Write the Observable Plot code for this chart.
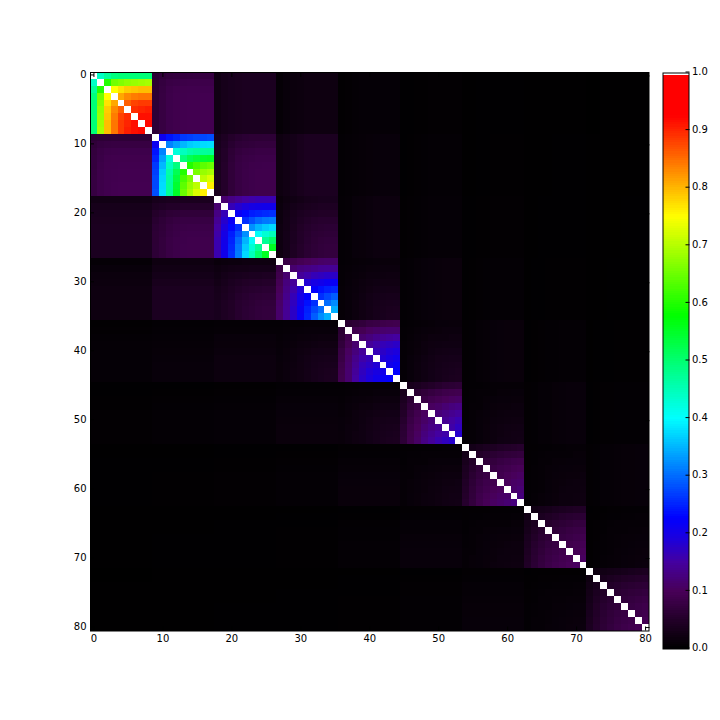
<!DOCTYPE html>
<html><head><meta charset="utf-8">
<script src="https://cdn.jsdelivr.net/npm/d3@7"></script>
<script src="https://cdn.jsdelivr.net/npm/@observablehq/plot@0.6"></script>
<style>html,body{margin:0;background:#fff}#c{position:relative;width:720px;height:720px}#c svg{position:absolute;top:0}</style>
</head><body><div id="c"></div>
<script>
// values in thousandths; the matrix is symmetric, built of 9 x 9 blocks
const diag0=[[440,470,490,495,495,495,495,495],[600,655,665,675,680,685,690],[750,770,785,790,795,795],[810,830,840,845,845],[860,880,885,885],[895,900,905],[915,915],[920]];
const diag1=[[210,240,250,265,270,275,275,280],[315,335,352,366,372,376,378],[425,445,460,468,470,472],[490,520,535,545,550],[600,625,640,650],[660,680,690],[705,725],[760]];
const diag2=[[115,130,140,150,155,160,160,160],[165,180,190,198,202,205,205],[215,232,245,250,255,258],[258,280,298,308,312],[325,350,365,375],[405,430,448],[475,505],[555]];
const diag3=[[80,88,95,100,105,110,112,112],[115,125,130,135,140,142,142],[145,155,165,170,175,175],[185,198,205,212,215],[225,238,248,252],[258,275,290],[300,322],[345]];
const diag4=[[60,65,70,78,80,85,88,90],[90,95,105,110,113,115,115],[115,125,135,140,145,150],[145,155,165,170,175],[165,175,185,190],[185,195,205],[205,215],[225]];
const diag5=[[35,40,45,50,55,60,62,65],[60,68,75,80,85,88,90],[80,90,95,100,105,108],[105,110,118,125,130],[122,130,138,145],[140,150,160],[155,170],[180]];
const diag6=[[30,35,40,43,47,50,52,55],[50,55,60,65,68,70,72],[68,72,78,82,86,88],[80,86,90,95,98],[90,97,102,106],[102,108,112],[112,118],[125]];
const diag7=[[25,30,33,37,40,43,45,47],[40,45,50,55,58,60,62],[55,60,65,68,72,74],[68,73,77,80,83],[78,82,86,90],[88,92,95],[96,100],[105]];
const diag8=[[20,25,28,30,33,36,38,40],[35,40,44,48,50,52,54],[50,54,58,60,63,65],[60,65,68,70,73],[70,74,77,80],[78,82,85],[85,90],[95]];
const diagBlocks=[diag0,diag1,diag2,diag3,diag4,diag5,diag6,diag7,diag8];

const next0=[[62,68,72,74,74,75,76,76,76],[64,74,80,82,84,85,85,85,85],[65,76,84,88,89,90,90,90,90],[66,77,85,89,90,91,91,92,92],[66,77,86,89,91,92,92,93,93],[66,77,86,89,91,92,92,93,93],[66,77,86,89,91,92,92,93,93],[66,77,86,89,91,92,92,93,93],[66,77,86,89,91,92,92,93,93]];
const next1=[[34,42,52,58,62,64,64,65,65],[36,46,58,66,68,70,72,72,72],[38,50,64,72,76,78,80,80,80],[38,50,66,76,80,82,84,84,84],[38,52,68,78,82,85,86,87,87],[38,52,68,78,83,86,88,88,88],[38,52,68,78,83,86,88,88,88],[38,52,68,78,83,86,88,88,88],[38,52,68,78,83,86,88,88,88]];
const next2=[[14,20,24,28,32,34,36,36,36],[16,24,30,34,38,40,42,42,42],[18,26,34,40,44,46,48,48,48],[18,28,36,44,50,54,56,56,56],[20,28,38,48,54,58,60,62,62],[20,30,40,50,56,62,64,66,66],[20,30,40,50,58,64,68,70,70],[20,30,42,52,60,66,70,72,72],[20,30,42,52,60,66,70,72,72]];
const next3=[[6,8,9,10,11,12,13,13,13],[7,9,11,12,14,15,16,16,16],[8,10,12,14,17,18,19,20,20],[8,11,14,17,20,22,23,23,23],[9,12,15,19,23,26,27,28,28],[9,12,16,21,26,30,31,32,32],[9,12,17,23,27,31,34,35,36],[9,12,17,23,28,32,35,38,39],[9,12,17,23,28,33,36,39,40]];
const next4=[[5,6,8,9,10,12,12,13,13],[6,8,10,12,13,14,16,16,16],[6,9,12,14,17,18,18,20,20],[8,10,13,17,20,21,22,22,22],[8,10,14,18,22,25,26,27,27],[8,12,16,21,25,29,30,31,31],[8,12,17,22,26,30,32,34,35],[8,12,17,22,27,31,34,36,38],[8,12,17,22,27,31,35,38,39]];
const next5=[[4,5,5,6,7,7,8,8,8],[4,6,7,7,8,10,10,11,11],[5,6,7,10,11,12,12,13,13],[5,7,8,11,13,14,14,16,16],[5,7,10,12,14,16,17,18,18],[5,7,11,13,16,18,19,20,20],[6,7,11,14,17,20,22,23,24],[6,8,11,14,18,20,23,25,25],[6,8,11,14,18,22,24,25,26]];
const next6=[[4,4,5,5,6,6,7,7,7],[4,5,6,7,7,8,8,10,10],[4,5,7,8,10,10,11,11,11],[4,6,7,10,11,12,12,13,13],[5,6,8,10,12,13,14,14,16],[5,6,8,11,13,14,16,17,17],[5,6,8,11,13,16,17,18,19],[5,7,10,12,14,17,18,19,20],[5,7,10,12,14,17,18,19,20]];
const next7=[[2,3,3,4,4,5,5,5,5],[3,3,4,5,5,6,6,7,7],[3,4,5,6,7,7,8,8,8],[3,4,5,7,8,8,9,9,10],[3,4,6,7,9,10,10,11,11],[3,5,6,8,9,10,11,12,12],[3,5,6,8,10,11,12,13,14],[3,5,7,9,10,12,13,14,15],[3,5,7,9,10,12,13,15,16]];
const nextBlocks=[next0,next1,next2,next3,next4,next5,next6,next7];

// farther block pairs: one row of nine values per pair, from block a to blocks a+2, a+3, ...
const far0=[[25,33,36,38,40,40,40,40,40],[8,12,16,18,20,20,20,20,20],[3,4,6,7,8,8,8,8,8],[2,2,3,3,4,4,4,4,4],[1,1,2,2,2,2,2,2,2],[1,1,1,1,1,1,1,1,1],[0,0,1,1,1,1,1,1,1]];
const far1=[[20,25,30,35,40,40,40,40,40],[5,6,8,9,10,11,12,12,12],[2,3,4,5,6,6,6,6,6],[1,1,2,2,3,3,3,3,3],[1,1,1,1,2,2,2,2,2],[1,1,1,1,1,1,1,1,1]];
const far2=[[6,8,12,13,15,17,17,18,18],[3,4,5,6,7,8,8,8,8],[2,2,3,3,4,4,4,4,4],[1,1,2,2,2,2,2,2,2],[1,1,1,1,1,2,2,2,2]];
const far3=[[5,6,9,11,12,13,14,14,14],[2,3,4,5,6,6,6,6,6],[1,2,2,3,3,3,3,3,3],[1,1,1,2,2,2,2,2,2]];
const far4=[[4,5,7,9,11,12,13,13,13],[2,3,4,5,5,6,6,6,6],[1,2,2,2,3,3,3,3,3]];
const far5=[[4,5,7,8,10,11,12,12,12],[2,3,4,4,5,5,5,5,5]];
const far6=[[4,5,7,8,9,10,10,11,11]];
const farBlocks=[far0,far1,far2,far3,far4,far5,far6];

const axisTicks=[0,10,20,30,40,50,60,70,80];
const barTicks=[0,0.1,0.2,0.3,0.4,0.5,0.6,0.7,0.8,0.9,1];
const colorStops=[0,0.05,0.1,0.15,0.19,0.227,0.4,0.578,0.75,0.925,0.996,0.9961,1];
const colorRange=["#000000","#220028","#480058","#4400a0","#1c00dc","#0000ff","#00ffff","#00ff00","#ffff00","#ff0000","#ff0000","#ffffff","#ffffff"];

function value(i,j){
  if(i===j) return 1;
  if(i>j) [i,j]=[j,i];
  const a=Math.floor(i/9),b=Math.floor(j/9),r=i%9,c=j%9;
  if(a===b) return diagBlocks[a][r][c-r-1]/1000;
  if(b===a+1) return nextBlocks[a][r][c]/1000;
  return farBlocks[a][b-a-2][c]/1000;
}
const idx=d3.range(81);
const cells=idx.flatMap(i=>idx.map(j=>({i,j,v:value(i,j)})));
const color={type:"linear",domain:colorStops,range:colorRange,interpolate:"rgb",clamp:true};
const font={fontFamily:"'DejaVu Sans',sans-serif",fontSize:"10px",background:"transparent",color:"#000"};

const main=Plot.plot({
  width:720,height:720,style:font,
  marginLeft:90,marginRight:71.5,marginTop:72,marginBottom:89.5,
  x:{type:"band",domain:idx,padding:0,round:false,label:null},
  y:{type:"band",domain:idx,padding:0,round:false,label:null},
  color,
  marks:[
    Plot.cell(cells,{x:"j",y:"i",fill:"v",shapeRendering:"crispEdges"}),
    Plot.frame({stroke:"#000"}),
    Plot.axisX({anchor:"bottom",ticks:axisTicks,tickSize:-4,tickPadding:8,label:null,stroke:"#000"}),
    Plot.axisX({anchor:"top",ticks:axisTicks,tickSize:-4,text:null,label:null,stroke:"#000"}),
    Plot.axisY({anchor:"left",ticks:axisTicks,tickSize:-4,tickPadding:8,dy:-1,label:null,stroke:"#000"}),
    Plot.axisY({anchor:"right",ticks:axisTicks,tickSize:-4,text:null,label:null,stroke:"#000"})
  ]
});
const levels=d3.range(256);
const bar=Plot.plot({
  width:720,height:720,style:font,
  marginLeft:662.5,marginRight:31.5,marginTop:72.5,marginBottom:71.5,
  x:{domain:[0,1],axis:null},
  y:{domain:[0,1],label:null},
  color,
  marks:[
    Plot.rect(levels,{x1:0,x2:1,y1:d=>d/256,y2:d=>(d+1)/256,fill:d=>(d+0.5)/256,shapeRendering:"crispEdges"}),
    Plot.frame({stroke:"#000"}),
    Plot.axisY({anchor:"right",ticks:barTicks,tickFormat:".1f",tickSize:-4,tickPadding:7,dy:-1,label:null,stroke:"#000"})
  ]
});
document.getElementById("c").append(main,bar);
</script></body></html>
